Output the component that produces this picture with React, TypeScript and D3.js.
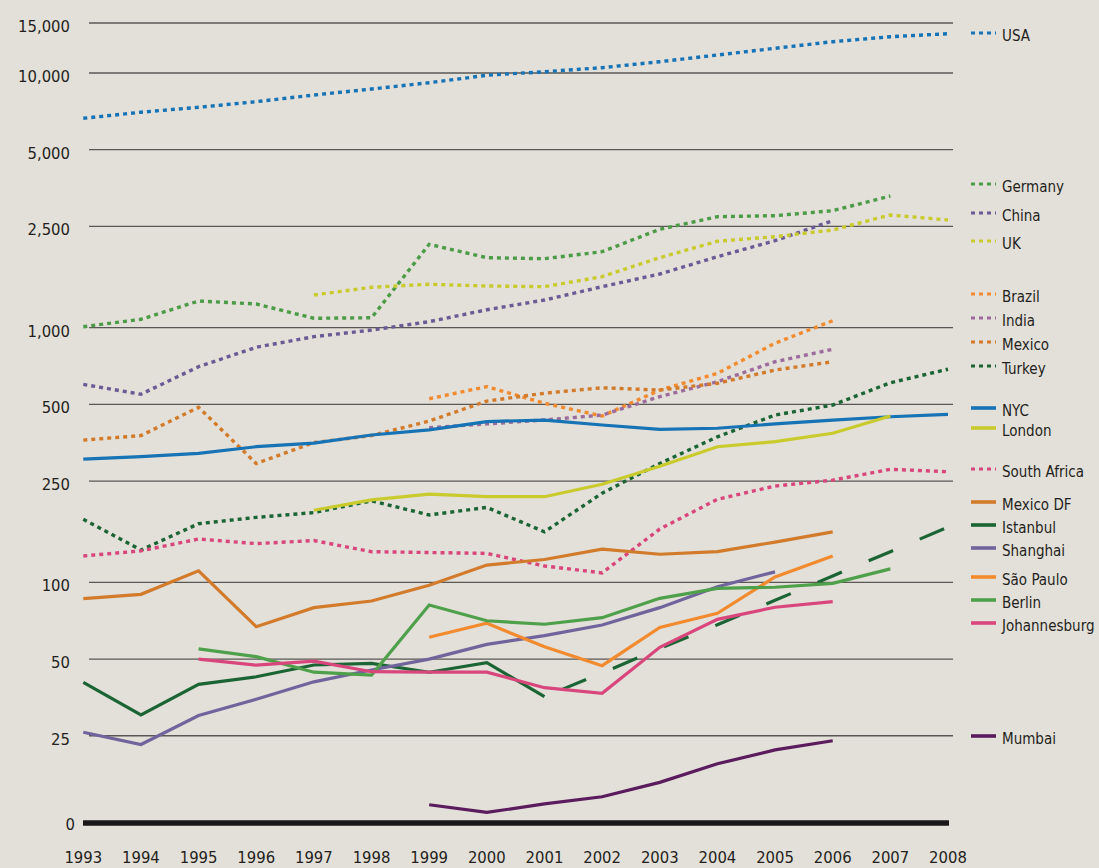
import {useEffect, useRef} from "react";
import * as d3 from "d3";

const years = [1993, 1994, 1995, 1996, 1997, 1998, 1999, 2000, 2001, 2002, 2003, 2004, 2005, 2006, 2007, 2008];

// countries (dotted)
const usa = [6640, 7015, 7335, 7715, 8195, 8650, 9160, 9795, 10105, 10440, 10960, 11570, 12220, 12890, 13420, 13750];
const germany = [1009, 1079, 1273, 1239, 1089, 1094, 2125, 1883, 1866, 1988, 2434, 2728, 2753, 2880, 3289, null];
const china = [599, 548, 703, 838, 922, 979, 1056, 1176, 1284, 1449, 1625, 1900, 2196, 2632, null, null];
const uk = [null, null, null, null, 1344, 1441, 1481, 1458, 1449, 1586, 1883, 2184, 2277, 2419, 2770, 2648];
const brazil = [null, null, null, null, null, null, 526, 587, 505, 450, 569, 662, 869, 1065, null, null];
const india = [null, null, null, null, null, null, 405, 419, 434, 454, 536, 614, 735, 823, null, null];
const mexico = [362, 377, 487, 293, 354, 377, 430, 515, 553, 581, 569, 605, 682, 735, null, null];
const turkey = [177, 134, 170, 180, 188, 209, 184, 197, 158, 224, 293, 373, 454, 497, 608, 687];
const southAfrica = [127, 133, 148, 142, 146, 132, 131, 130, 116, 109, 162, 212, 239, 252, 278, 272];

// cities (solid)
const nyc = [305, 312, 321, 341, 352, 379, 397, 428, 434, 415, 399, 403, 419, 434, 447, 457];
const london = [null, null, null, null, 192, 211, 222, 217, 217, 243, 286, 341, 357, 385, 450, null];
const mexicoDF = [86.3, 89.8, 111, 67, 79.6, 84.5, 97.4, 117, 123, 135, 129, 132, 144, 158, null, null];
const istanbul = [40.5, 30.2, 39.8, 42.6, 47.4, 48.1, 44.4, 48.4, 35.6, 44.1, 55, 68.2, 85.1, 106, 132, 165];
const shanghai = [25.8, 23.1, 30, 34.8, 40.7, 45.3, 50, 57.1, 61.8, 68, 79.6, 96.2, 110, null, null, null];
const saoPaulo = [null, null, null, null, null, null, 60.9, 69.1, 55.9, 47.1, 66.6, 75.6, 105, 127, null, null];
const berlin = [null, null, 54.8, 51.1, 44.4, 43.3, 81.5, 70.7, 68.5, 72.7, 86.6, 94.8, 95.7, 99.2, 113, null];
const johannesburg = [null, null, 50, 47.3, 49.1, 44.6, 44.4, 44.4, 38.6, 36.7, 55.6, 71.6, 79.9, 84, null, null];
const mumbai = [null, null, null, null, null, null, 13.4, 12.5, 13.5, 14.4, 16.4, 19.4, 22, 23.9, null, null];

// Istanbul is dashed (estimate) from this year on
const istanbulDashedFrom = 2001;

const yTicks = [25, 50, 100, 250, 500, 1000, 2500, 5000, 10000, 15000];
const yFloor = 11.36; // value drawn as the "0" baseline (axis break)

const series = [
	{name: "USA", values: usa, color: "#1673b5", dotted: true, legendY: 33},
	{name: "Germany", values: germany, color: "#4b9b47", dotted: true, legendY: 184},
	{name: "China", values: china, color: "#6b5b95", dotted: true, legendY: 213},
	{name: "UK", values: uk, color: "#c9cb2c", dotted: true, legendY: 241},
	{name: "Brazil", values: brazil, color: "#f28a2e", dotted: true, legendY: 294},
	{name: "India", values: india, color: "#9b6c9c", dotted: true, legendY: 318},
	{name: "Mexico", values: mexico, color: "#d27b2b", dotted: true, legendY: 342},
	{name: "Turkey", values: turkey, color: "#1b6535", dotted: true, legendY: 366},
	{name: "NYC", values: nyc, color: "#1673b5", dotted: false, legendY: 408},
	{name: "London", values: london, color: "#c9cb2c", dotted: false, legendY: 428},
	{name: "South Africa", values: southAfrica, color: "#d8467c", dotted: true, legendY: 469},
	{name: "Mexico DF", values: mexicoDF, color: "#d27b2b", dotted: false, legendY: 502},
	{name: "Istanbul", values: istanbul, color: "#1b6535", dotted: false, legendY: 525},
	{name: "Shanghai", values: shanghai, color: "#70649c", dotted: false, legendY: 548},
	{name: "São Paulo", values: saoPaulo, color: "#f28a2e", dotted: false, legendY: 577},
	{name: "Berlin", values: berlin, color: "#4fa04a", dotted: false, legendY: 600},
	{name: "Johannesburg", values: johannesburg, color: "#d8467c", dotted: false, legendY: 623},
	{name: "Mumbai", values: mumbai, color: "#5a1c5d", dotted: false, legendY: 736},
];

const FONT = "'Liberation Sans Narrow', 'DejaVu Sans Condensed', Lato, sans-serif";
const BG = "#e3dfd9";
const INK = "#231f20";

const App = () => {
	const svgRef = useRef(null);
	const width = 1099;
	const height = 868;

	useEffect(() => {
		document.body.style.margin = "0";
		document.body.style.background = BG;

		const x = d3.scaleLinear().domain([1993, 2008]).range([83.3, 948]);
		// log scale, last step (10,000 -> 15,000) stretched like the original
		const y = d3.scaleLog().domain([yFloor, 10000, 15000]).range([823, 73, 23]);

		const svg = d3.select(svgRef.current);
		svg.selectAll("*").remove();

		svg.append("rect").attr("width", width).attr("height", height).attr("fill", BG);

		// gridlines
		svg.append("g")
			.selectAll("line")
			.data(yTicks)
			.join("line")
			.attr("x1", 89)
			.attr("x2", 953)
			.attr("y1", (d) => y(d))
			.attr("y2", (d) => y(d))
			.attr("stroke", "#5a5856")
			.attr("stroke-width", 1.3);

		// y labels
		svg.append("g")
			.selectAll("text")
			.data(yTicks)
			.join("text")
			.attr("x", 70)
			.attr("y", (d) => y(d) + 9)
			.attr("text-anchor", "end")
			.attr("fill", INK)
			.style("font-family", FONT)
			.style("font-size", "16.5px")
			.text((d) => d3.format(",")(d));

		svg.append("text")
			.attr("x", 75)
			.attr("y", y(yFloor) + 6.5)
			.attr("text-anchor", "end")
			.attr("fill", INK)
			.style("font-family", FONT)
			.style("font-size", "16.5px")
			.text("0");

		// x labels
		svg.append("g")
			.selectAll("text")
			.data(years)
			.join("text")
			.attr("x", (d) => x(d))
			.attr("y", 863)
			.attr("text-anchor", "middle")
			.attr("fill", INK)
			.style("font-family", FONT)
			.style("font-size", "16.5px")
			.text((d) => d);

		const line = d3
			.line()
			.defined((d) => d.v != null)
			.x((d) => x(d.year))
			.y((d) => y(d.v));

		const plot = svg.append("g");

		series.forEach((s) => {
			const pts = s.values.map((v, i) => ({year: years[i], v}));
			if (s.name === "Istanbul") {
				plot.append("path")
					.datum(pts.filter((p) => p.year <= istanbulDashedFrom))
					.attr("d", line)
					.attr("fill", "none")
					.attr("stroke", s.color)
					.attr("stroke-width", 3.2);
				plot.append("path")
					.datum(pts.filter((p) => p.year >= istanbulDashedFrom))
					.attr("d", line)
					.attr("fill", "none")
					.attr("stroke", s.color)
					.attr("stroke-width", 3.2)
					.attr("stroke-dasharray", "26.5 29")
					.attr("stroke-dashoffset", 37);
				return;
			}
			plot.append("path")
				.datum(pts)
				.attr("d", line)
				.attr("fill", "none")
				.attr("stroke", s.color)
				.attr("stroke-width", s.dotted ? 3.4 : 3.2)
				.attr("stroke-dasharray", s.dotted ? "4 4" : null);
		});

		// zero baseline
		svg.append("line")
			.attr("x1", 83)
			.attr("x2", 949)
			.attr("y1", y(yFloor))
			.attr("y2", y(yFloor))
			.attr("stroke", "#1a1718")
			.attr("stroke-width", 5.3);

		// legend
		const legend = svg.append("g")
			.selectAll("g")
			.data(series)
			.join("g")
			.attr("transform", (d) => `translate(971,${d.legendY})`);

		legend.append("line")
			.attr("x1", 0)
			.attr("x2", 25)
			.attr("stroke", (d) => d.color)
			.attr("stroke-width", (d) => (d.dotted ? 3 : 3.6))
			.attr("stroke-dasharray", (d) => (d.dotted ? "4 4" : null));

		legend.append("text")
			.attr("x", 31)
			.attr("y", 8)
			.attr("fill", INK)
			.style("font-family", FONT)
			.style("font-size", "15px")
			.text((d) => d.name);
	}, []);

	return (
		<div style={{width: width, height: height, background: BG}}>
			<svg ref={svgRef} width={width} height={height}></svg>
		</div>
	);
};

export default App;
